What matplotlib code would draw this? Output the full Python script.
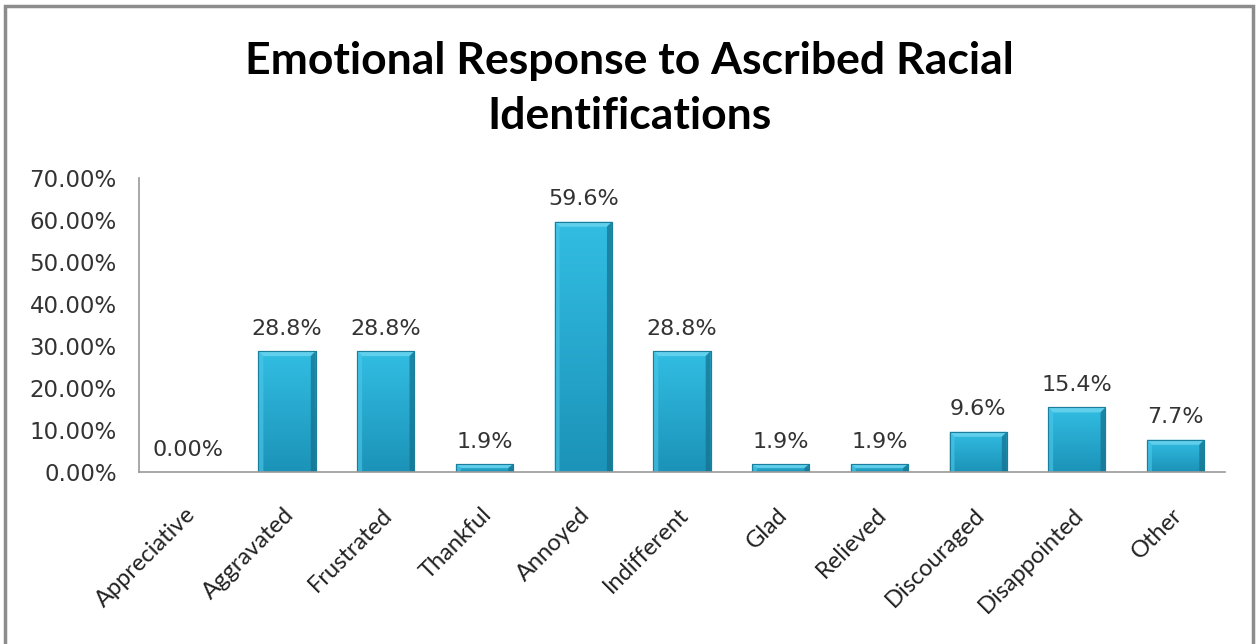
import numpy as np
import matplotlib.pyplot as plt
import matplotlib.transforms as mtransforms
from matplotlib.colors import LinearSegmentedColormap
from matplotlib.patches import Polygon, Rectangle

# Datele graficului
emotii = ['Appreciative', 'Aggravated', 'Frustrated', 'Thankful', 'Annoyed',
          'Indifferent', 'Glad', 'Relieved', 'Discouraged', 'Disappointed', 'Other']
procente = [0.0, 28.8, 28.8, 1.9, 59.6, 28.8, 1.9, 1.9, 9.6, 15.4, 7.7]
etichete = ['0.00%', '28.8%', '28.8%', '1.9%', '59.6%', '28.8%',
            '1.9%', '1.9%', '9.6%', '15.4%', '7.7%']
y_ticks = [0, 10, 20, 30, 40, 50, 60, 70]

culoare_text = '#333333'

fig = plt.figure(figsize=(12.57, 6.44), dpi=100)
ax = fig.add_axes([0.1106, 0.267, 0.8639, 0.4566])

# Chenarul exterior al graficului
fig.patches.append(Rectangle((5 / 1257, -0.1), 1248 / 1257, 1.1 - 6 / 644,
                             transform=fig.transFigure, fill=False,
                             edgecolor='#8c8c8c', linewidth=2.5))

x = np.arange(len(emotii))
latime = 0.58
bare = ax.bar(x, procente, width=latime, color='#27aed5',
              edgecolor='#1a7f9c', linewidth=0.8, zorder=2)

# Gradient vertical si efect de relief pe fiecare bara
cmap_bara = LinearSegmentedColormap.from_list('bara', ['#1c93b8', '#32bde3'])
grad = np.linspace(0, 1, 64).reshape(-1, 1)
for b in bare:
    h = b.get_height()
    if h <= 0:
        continue
    x0, w = b.get_x(), b.get_width()
    im = ax.imshow(grad, extent=(x0, x0 + w, 0, h), origin='lower',
                   cmap=cmap_bara, aspect='auto', zorder=2.1)
    im.set_clip_path(b)
    dx, dy = 0.05, min(1.2, h / 2)
    # margine superioara deschisa
    ax.add_patch(Polygon([(x0, h), (x0 + w, h), (x0 + w - dx, h - dy), (x0 + dx, h - dy)],
                         closed=True, facecolor='#6ed6f0', edgecolor='none', alpha=0.8, zorder=2.2))
    # margini laterale
    ax.add_patch(Polygon([(x0, h), (x0 + dx, h - dy), (x0 + dx, 0), (x0, 0)],
                         closed=True, facecolor='#4cc8ea', edgecolor='none', alpha=0.6, zorder=2.2))
    ax.add_patch(Polygon([(x0 + w, h), (x0 + w - dx, h - dy), (x0 + w - dx, 0), (x0 + w, 0)],
                         closed=True, facecolor='#15708c', edgecolor='none', alpha=0.7, zorder=2.2))
    ax.add_patch(Rectangle((x0, h), w, -h, fill=False, edgecolor='#1a7f9c',
                           linewidth=0.8, zorder=2.3))

# Etichetele valorilor
for xi, v, t in zip(x, procente, etichete):
    ax.annotate(t, (xi, v), xytext=(0, 9), textcoords='offset points',
                ha='center', va='bottom', fontsize=16, color=culoare_text)

ax.set_xlim(-0.5, len(emotii) - 0.5)
ax.set_ylim(0, 70)
ax.set_yticks(y_ticks)
ax.set_yticklabels([f'{v:.2f}%' for v in y_ticks], fontsize=16.5, color=culoare_text)
ax.set_xticks(x)
ax.set_xticklabels(emotii, rotation=45, ha='right', rotation_mode='anchor',
                   fontsize=17, color='#222222', family=['Lato', 'DejaVu Sans'])
ax.tick_params(axis='y', length=0, pad=16)
ax.tick_params(axis='x', length=0, pad=23)

# deplasare usoara a etichetelor categoriilor spre stanga
decalaj = mtransforms.ScaledTranslation(-4 / 100, 0, fig.dpi_scale_trans)
for lbl in ax.get_xticklabels():
    lbl.set_transform(lbl.get_transform() + decalaj)

for s in ['top', 'right']:
    ax.spines[s].set_visible(False)
for s in ['left', 'bottom']:
    ax.spines[s].set_color('#9a9a9a')
    ax.spines[s].set_linewidth(1.2)

fig.text(0.501, 0.8626, 'Emotional Response to Ascribed Racial\nIdentifications',
         ha='center', va='center', fontsize=32, fontweight='bold',
         family=['Lato', 'DejaVu Sans'], linespacing=1.48, color='#000000')

fig.savefig('out.png', dpi=100)
